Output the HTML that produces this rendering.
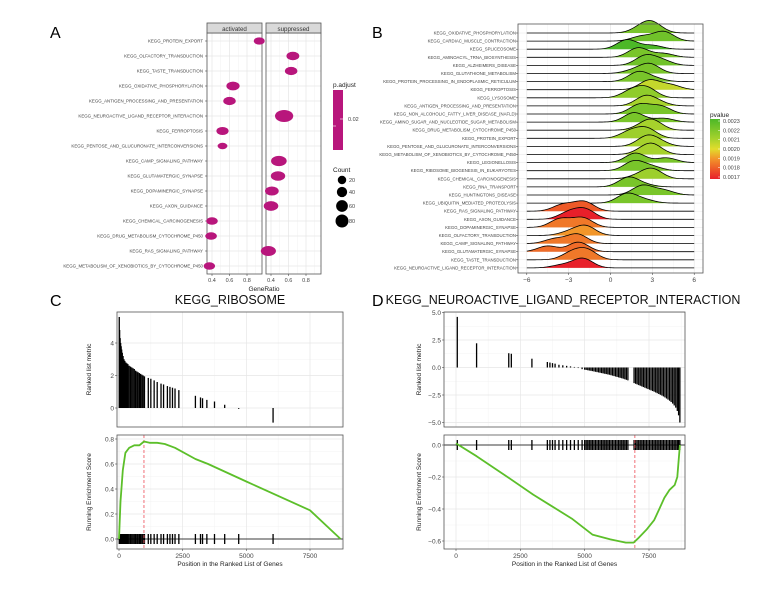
<!DOCTYPE html>
<html><head><meta charset="utf-8">
<style>
html,body{margin:0;padding:0;background:#fff;}
svg{display:block;font-family:"Liberation Sans",Arial,sans-serif;}
</style></head>
<body>
<svg id="fig" width="782" height="590" viewBox="0 0 782 590" xmlns="http://www.w3.org/2000/svg">
<rect width="782" height="590" fill="#fff"/>
<text x="50" y="38" font-size="16">A</text>
<text x="372" y="38" font-size="16">B</text>
<text x="50" y="306" font-size="16">C</text>
<text x="372" y="306" font-size="16">D</text>
<g id="gA"></g>
<g id="gB"></g>
<g id="gC"></g>
<g id="gD"></g>
</svg>
<script>
// ---------- Panel A data ----------
const aTerms = ["KEGG_PROTEIN_EXPORT","KEGG_OLFACTORY_TRANSDUCTION","KEGG_TASTE_TRANSDUCTION","KEGG_OXIDATIVE_PHOSPHORYLATION","KEGG_ANTIGEN_PROCESSING_AND_PRESENTATION","KEGG_NEUROACTIVE_LIGAND_RECEPTOR_INTERACTION","KEGG_FERROPTOSIS","KEGG_PENTOSE_AND_GLUCURONATE_INTERCONVERSIONS","KEGG_CAMP_SIGNALING_PATHWAY","KEGG_GLUTAMATERGIC_SYNAPSE","KEGG_DOPAMINERGIC_SYNAPSE","KEGG_AXON_GUIDANCE","KEGG_CHEMICAL_CARCINOGENESIS","KEGG_DRUG_METABOLISM_CYTOCHROME_P450","KEGG_RAS_SIGNALING_PATHWAY","KEGG_METABOLISM_OF_XENOBIOTICS_BY_CYTOCHROME_P450"];
const aPanel = [0,1,1,0,0,1,0,0,1,1,1,1,0,0,1,0];
const aRatio = [0.94,0.65,0.63,0.64,0.60,0.55,0.52,0.52,0.49,0.48,0.41,0.40,0.40,0.39,0.37,0.37];
const aCount = [22,35,32,38,32,90,30,15,60,48,42,50,25,25,55,24];
const aRatioTicks = [0.4,0.6,0.8];
const aCountLegend = [20,40,60,80];

// ---------- Panel B data ----------
const bTerms = ["KEGG_OXIDATIVE_PHOSPHORYLATION","KEGG_CARDIAC_MUSCLE_CONTRACTION","KEGG_SPLICEOSOME","KEGG_AMINOACYL_TRNA_BIOSYNTHESIS","KEGG_ALZHEIMERS_DISEASE","KEGG_GLUTATHIONE_METABOLISM","KEGG_PROTEIN_PROCESSING_IN_ENDOPLASMIC_RETICULUM","KEGG_FERROPTOSIS","KEGG_LYSOSOME","KEGG_ANTIGEN_PROCESSING_AND_PRESENTATION","KEGG_NON_ALCOHOLIC_FATTY_LIVER_DISEASE_(NAFLD)","KEGG_AMINO_SUGAR_AND_NUCLEOTIDE_SUGAR_METABOLISM","KEGG_DRUG_METABOLISM_CYTOCHROME_P450","KEGG_PROTEIN_EXPORT","KEGG_PENTOSE_AND_GLUCURONATE_INTERCONVERSIONS","KEGG_METABOLISM_OF_XENOBIOTICS_BY_CYTOCHROME_P450","KEGG_LEGIONELLOSIS","KEGG_RIBOSOME_BIOGENESIS_IN_EUKARYOTES","KEGG_CHEMICAL_CARCINOGENESIS","KEGG_RNA_TRANSPORT","KEGG_HUNTINGTONS_DISEASE","KEGG_UBIQUITIN_MEDIATED_PROTEOLYSIS","KEGG_RAS_SIGNALING_PATHWAY","KEGG_AXON_GUIDANCE","KEGG_DOPAMINERGIC_SYNAPSE","KEGG_OLFACTORY_TRANSDUCTION","KEGG_CAMP_SIGNALING_PATHWAY","KEGG_GLUTAMATERGIC_SYNAPSE","KEGG_TASTE_TRANSDUCTION","KEGG_NEUROACTIVE_LIGAND_RECEPTOR_INTERACTION"];
const bPvalue = [0.0022,0.00222,0.0023,0.0022,0.00222,0.0022,0.0022,0.00205,0.00215,0.0021,0.0022,0.0022,0.0021,0.00212,0.0021,0.0021,0.0022,0.0022,0.00212,0.0022,0.0022,0.0022,0.0018,0.0017,0.00185,0.0019,0.00185,0.00183,0.00185,0.0017];
const bPeakMain = [3.0,3.8,1.2,2.0,2.5,2.8,2.0,2.8,2.6,2.5,2.1,1.7,3.0,2.6,2.6,3.0,1.8,1.7,3.0,1.3,2.3,1.2,-1.9,-1.8,-2.0,-1.8,-2.4,-2.3,-1.7,-2.0];
const bPeakSecond = [2.2,2.2,3.0,3.8,3.7,1.6,3.2,4.3,1.5,3.5,3.6,3.8,2.2,1.4,3.5,2.3,4.0,3.0,2.0,2.5,3.8,2.5,-3.4,-3.0,-3.6,-3.0,-4.0,-4.5,-2.8,-3.5];
const bSecondWeight = [0.5,0.5,0.4,0.4,0.5,0.3,0.3,0.5,0.7,0.3,0.8,0.4,0.3,0.7,0.4,0.3,0.5,0.4,0.3,0.2,0.5,0.3,0.7,0.7,0.9,0.35,0.5,0.6,0.7,0.3];
const bXTicks = [-6,-3,0,3,6];
const bLegendTicks = [0.0023,0.0022,0.0021,0.0020,0.0019,0.0018,0.0017];

// ---------- Panel C data ----------
const cHitPos = [10,25,45,65,85,105,130,160,195,230,270,310,350,400,450,500,550,600,650,700,750,800,850,900,950,1000,1150,1250,1380,1500,1650,1750,1900,2000,2100,2200,2350,3000,3200,3280,3450,3750,4150,4700,6050];
const cHitMetric = [5.6,4.8,4.3,4.0,3.8,3.6,3.4,3.2,3.0,2.9,2.8,2.75,2.7,2.6,2.55,2.5,2.45,2.4,2.3,2.25,2.2,2.15,2.1,2.05,2.0,1.95,1.85,1.8,1.7,1.6,1.5,1.45,1.35,1.3,1.25,1.2,1.1,0.75,0.65,0.6,0.5,0.4,0.2,-0.05,-0.9];
const cEsPos = [0,60,150,250,400,600,800,980,1200,1500,1800,2200,3000,3500,5000,7500,8700];
const cEsVal = [0,0.3,0.55,0.69,0.73,0.75,0.75,0.78,0.77,0.77,0.76,0.73,0.64,0.6,0.46,0.23,0];
const cPeakPos = 980;
const cYTopTicks = [0,2,4];
const cYBotTicks = [0,0.2,0.4,0.6,0.8];
const xTicks = [0,2500,5000,7500];

// ---------- Panel D data ----------
const dHitPos = [50,800,2050,2150,2950,3550,3650,3750,3850,4000,4150,4300,4450,4600,4750,4900,5000,5060,5120,5180,5240,5300,5360,5420,5480,5540,5600,5660,5720,5780,5840,5900,5960,6020,6080,6140,6200,6260,6320,6380,6440,6500,6560,6620,6680,6920,6980,7040,7100,7160,7220,7280,7340,7400,7460,7520,7580,7640,7700,7760,7820,7880,7940,8000,8060,8120,8180,8240,8300,8360,8420,8480,8540,8600,8650,8700];
const dHitMetric = [4.6,2.2,1.3,1.25,0.8,0.5,0.45,0.4,0.35,0.25,0.2,0.15,0.1,0.05,-0.05,-0.15,-0.2,-0.22,-0.25,-0.28,-0.3,-0.33,-0.36,-0.39,-0.42,-0.45,-0.48,-0.51,-0.54,-0.57,-0.6,-0.63,-0.66,-0.7,-0.74,-0.78,-0.82,-0.86,-0.9,-0.94,-0.98,-1.02,-1.07,-1.12,-1.17,-1.42,-1.48,-1.54,-1.6,-1.66,-1.72,-1.78,-1.84,-1.9,-1.96,-2.02,-2.08,-2.14,-2.2,-2.27,-2.34,-2.41,-2.48,-2.55,-2.63,-2.72,-2.82,-2.92,-3.02,-3.14,-3.28,-3.45,-3.65,-3.95,-4.35,-5.0];
const dEsPos = [0,800,2000,3000,3700,4500,5300,6000,6600,6900,7100,7400,7700,7900,8100,8300,8500,8600,8700];
const dEsVal = [0.01,-0.07,-0.2,-0.31,-0.38,-0.46,-0.56,-0.59,-0.61,-0.61,-0.58,-0.53,-0.47,-0.4,-0.33,-0.28,-0.25,-0.2,0];
const dPeakPos = 6950;
const dYTopTicks = [5,2.5,0,-2.5,-5];
const dYBotTicks = [0,-0.2,-0.4,-0.6];

const NS = "http://www.w3.org/2000/svg";
function mk(parent, tag, attrs, txt){
  const e = document.createElementNS(NS, tag);
  for (const k in attrs) e.setAttribute(k, attrs[k]);
  if (txt !== undefined) e.textContent = txt;
  parent.appendChild(e);
  return e;
}
function fmt(v,d){ return v.toFixed(d); }

// ================= Panel A =================
(function(){
  const g = document.getElementById('gA');
  const panels = [{l:207,r:262,name:'activated'},{l:266,r:321,name:'suppressed'}];
  const top = 33, bot = 274;
  const rowY = i => 41 + i*15;
  const xA = (v,p) => panels[p].l + 5 + (v-0.4)*87.5;
  panels.forEach((p,pi)=>{
    let e = mk(g,'rect',{x:p.l,y:top,width:p.r-p.l,height:bot-top,fill:'#fff'});
    
    
    [0.5,0.7,0.9].forEach(v=>{ const x=xA(v,pi); if(x<p.r) mk(g,'line',{x1:x,x2:x,y1:top,y2:bot,stroke:'#f2f2f2','stroke-width':0.5}); });
    aRatioTicks.forEach(v=>{ const x=xA(v,pi); mk(g,'line',{x1:x,x2:x,y1:top,y2:bot,stroke:'#e6e6e6','stroke-width':0.7}); });
    aTerms.forEach((t,i)=>{ mk(g,'line',{x1:p.l,x2:p.r,y1:rowY(i),y2:rowY(i),stroke:'#e6e6e6','stroke-width':0.7}); });
    mk(g,'rect',{x:p.l,y:top,width:p.r-p.l,height:bot-top,fill:'none',stroke:'#555','stroke-width':0.8});
    e = mk(g,'rect',{x:p.l,y:23,width:p.r-p.l,height:10,fill:'#d9d9d9',stroke:'#555','stroke-width':0.8});
    
    
    e = mk(g,'text',{x:(p.l+p.r)/2,y:31,'font-size':6.2,'text-anchor':'middle',fill:'#333'},p.name);
    
    
    aRatioTicks.forEach(v=>{
      const x=xA(v,pi);
      mk(g,'line',{x1:x,x2:x,y1:bot,y2:bot+2,stroke:'#333','stroke-width':0.5});
      const t = mk(g,'text',{x:x,y:bot+8,'font-size':5.5,'text-anchor':'middle',fill:'#444'},fmt(v,1));
      
      
    });
  });
  aTerms.forEach((t,i)=>{
    const y=rowY(i);
    mk(g,'line',{x1:205,x2:207,y1:y,y2:y,stroke:'#333','stroke-width':0.5});
    const e = mk(g,'text',{x:203,y:y+1.6,'font-size':4.4,'text-anchor':'end',fill:'#444'},t);
    
    
    const rx = 2 + Math.sqrt(aCount[i])*0.75;
    const d = mk(g,'ellipse',{cx:xA(aRatio[i],aPanel[i]),cy:y,rx:rx,ry:rx*0.66,fill:'#b8167c'});
    
    
  });
  let e = mk(g,'text',{x:264,y:291,'font-size':6.5,'text-anchor':'middle',fill:'#222'},'GeneRatio');
  
  
  e = mk(g,'text',{x:333,y:87,'font-size':6.5,fill:'#222'},'p.adjust');
  
  
  e = mk(g,'rect',{x:333,y:90,width:10,height:60,fill:'#b8167c'});
  
  
  mk(g,'line',{x1:333,x2:336,y1:126,y2:126,stroke:'#fff','stroke-width':0.6});
  mk(g,'line',{x1:340,x2:343,y1:119,y2:119,stroke:'#fff','stroke-width':0.6});
  e = mk(g,'text',{x:348,y:121,'font-size':5.5,fill:'#444'},'0.02');
  
  
  e = mk(g,'text',{x:333,y:172,'font-size':6.5,fill:'#222'},'Count');
  
  
  const ly=[180,192,206,221];
  aCountLegend.forEach((c,i)=>{
    const r = 2 + Math.sqrt(c)*0.5;
    const k = mk(g,'circle',{cx:342,cy:ly[i],r:r,fill:'#000'});
    
    
    const t = mk(g,'text',{x:349,y:ly[i]+2,'font-size':5.5,fill:'#444'},String(c));
    
    
  });
})();

// ================= Panel B =================
(function(){
  const g = document.getElementById('gB');
  const L=518,R=703,T=24,B=273;
  const xB = v => 610.5 + v*13.95;
  const rowY = i => 33 + i*8.1;
  const stops=[[0.0017,[232,32,42]],[0.0018,[238,90,40]],[0.0019,[242,150,42]],[0.0020,[226,220,44]],[0.0021,[166,210,44]],[0.0023,[76,184,40]]];
  function col(p){
    if(p<=stops[0][0]) return 'rgb('+stops[0][1]+')';
    for(let i=1;i<stops.length;i++){ if(p<=stops[i][0]){ const a=stops[i-1],b=stops[i],t=(p-a[0])/(b[0]-a[0]); return 'rgb('+a[1].map((c,j)=>Math.round(c+(b[1][j]-c)*t)).join(',')+')'; } }
    return 'rgb('+stops[stops.length-1][1]+')';
  }
  let e = mk(g,'rect',{x:L,y:T,width:R-L,height:B-T,fill:'#fff'});
  
  
  [-4.5,-1.5,1.5,4.5].forEach(v=>mk(g,'line',{x1:xB(v),x2:xB(v),y1:T,y2:B,stroke:'#f3f3f3','stroke-width':0.5}));
  bXTicks.forEach(v=>mk(g,'line',{x1:xB(v),x2:xB(v),y1:T,y2:B,stroke:'#e6e6e6','stroke-width':0.7}));
  bTerms.forEach((t,i)=>mk(g,'line',{x1:L,x2:R,y1:rowY(i),y2:rowY(i),stroke:'#e6e6e6','stroke-width':0.5}));
  bTerms.forEach((t,i)=>{
    const y0=rowY(i);
    let pts=[];
    for(let v=-6; v<=6.001; v+=0.1){
      const d = Math.exp(-0.5*Math.pow((v-bPeakMain[i])/0.72,2)) + bSecondWeight[i]*Math.exp(-0.5*Math.pow((v-bPeakSecond[i])/0.72,2));
      pts.push([xB(v), y0 - d*9.5]);
    }
    const line = pts.map((p,k)=>(k?'L':'M')+p[0].toFixed(1)+','+p[1].toFixed(2)).join('');
    const area = line + 'L'+xB(6)+','+y0+'L'+xB(-6)+','+y0+'Z';
    const a = mk(g,'path',{d:area,fill:col(bPvalue[i]),stroke:'none'});
    
    
    mk(g,'path',{d:line,fill:'none',stroke:'#000','stroke-width':0.8});
    mk(g,'line',{x1:L-2,x2:L,y1:y0,y2:y0,stroke:'#333','stroke-width':0.5});
    const tx = mk(g,'text',{x:L-2,y:y0+1.5,'font-size':4.3,'text-anchor':'end',fill:'#444'},t);
    
    
  });
  mk(g,'rect',{x:L,y:T,width:R-L,height:B-T,fill:'none',stroke:'#555','stroke-width':0.8});
  bXTicks.forEach(v=>{
    mk(g,'line',{x1:xB(v),x2:xB(v),y1:B,y2:B+2,stroke:'#333','stroke-width':0.5});
    const t = mk(g,'text',{x:xB(v),y:B+9,'font-size':6.5,'text-anchor':'middle',fill:'#444'},(v<0?'\u2212':'')+Math.abs(v));
    
    
  });
  e = mk(g,'text',{x:710,y:117,'font-size':6.5,fill:'#222'},'pvalue');
  
  
  const defs = mk(g,'defs',{});
  const lg = mk(defs,'linearGradient',{id:'pgrad',x1:0,y1:0,x2:0,y2:1});
  [[0,'#4cb828'],[0.33,'#a6d22c'],[0.5,'#e2dc2c'],[0.66,'#f2962a'],[0.83,'#ee5a28'],[1,'#e8202a']].forEach(s=>mk(lg,'stop',{offset:s[0],'stop-color':s[1]}));
  e = mk(g,'rect',{x:710,y:119,width:10,height:60,fill:'url(#pgrad)'});
  
  
  bLegendTicks.forEach((v,i)=>{
    const y = 121 + (0.0023-v)/0.0006*56;
    mk(g,'line',{x1:718,x2:720,y1:y,y2:y,stroke:'#fff','stroke-width':0.5});
    const t = mk(g,'text',{x:723,y:y+2,'font-size':5.5,fill:'#444'},v.toFixed(4));
    
    
  });
})();

// ================= GSEA panels =================
function gsea(g, cfg){
  const {L,R,xs,topT,topB,botT,botB,yTop,yBot,topTicks,botTicks,hitPos,hitMetric,esPos,esVal,peak,title,titleX,ylabX,topDec,botDec,barW} = cfg;
  function grid(T,B,yf,ticks){
    const minor=[];
    for(let i=0;i<ticks.length-1;i++) minor.push((ticks[i]+ticks[i+1])/2);
    minor.forEach(v=>mk(g,'line',{x1:L,x2:R,y1:yf(v),y2:yf(v),stroke:'#f3f3f3','stroke-width':0.5}));
    [1250,3750,6250,8750].forEach(v=>{const x=xs(v); if(x<R) mk(g,'line',{x1:x,x2:x,y1:T,y2:B,stroke:'#f3f3f3','stroke-width':0.5});});
    ticks.forEach(v=>mk(g,'line',{x1:L,x2:R,y1:yf(v),y2:yf(v),stroke:'#e6e6e6','stroke-width':0.7}));
    xTicks.forEach(v=>mk(g,'line',{x1:xs(v),x2:xs(v),y1:T,y2:B,stroke:'#e6e6e6','stroke-width':0.7}));
  }
  let e = mk(g,'text',{x:titleX,y:304,'font-size':12.5,'text-anchor':'middle',fill:'#111'},title);
  
  
  e = mk(g,'rect',{x:L,y:topT,width:R-L,height:topB-topT,fill:'#fff'});
  
  
  grid(topT,topB,yTop,topTicks);
  hitPos.forEach((p,i)=>{
    const b = mk(g,'line',{x1:xs(p),x2:xs(p),y1:yTop(0),y2:yTop(hitMetric[i]),stroke:'#000','stroke-width':barW});
    
    
  });
  mk(g,'rect',{x:L,y:topT,width:R-L,height:topB-topT,fill:'none',stroke:'#555','stroke-width':0.8});
  topTicks.forEach(v=>{
    mk(g,'line',{x1:L-2,x2:L,y1:yTop(v),y2:yTop(v),stroke:'#333','stroke-width':0.5});
    const t = mk(g,'text',{x:L-3,y:yTop(v)+2.3,'font-size':6.5,'text-anchor':'end',fill:'#444'},(v<0?'\u2212':'')+Math.abs(v).toFixed(topDec));
    
    
  });
  e = mk(g,'text',{x:ylabX,y:(topT+topB)/2,'font-size':6.5,'text-anchor':'middle',fill:'#222',transform:'rotate(-90 '+ylabX+' '+(topT+topB)/2+')'},'Ranked list metric');
  
  
  e = mk(g,'rect',{x:L,y:botT,width:R-L,height:botB-botT,fill:'#fff'});
  
  
  grid(botT,botB,yBot,botTicks);
  hitPos.forEach(p=>{
    const h = mk(g,'line',{x1:xs(p),x2:xs(p),y1:yBot(0)-5,y2:yBot(0)+5,stroke:'#000','stroke-width':barW});
    
    
  });
  mk(g,'line',{x1:L,x2:R,y1:yBot(0),y2:yBot(0),stroke:'#000','stroke-width':0.8});
  e = mk(g,'line',{x1:xs(peak),x2:xs(peak),y1:botT,y2:botB,stroke:'#f0606a','stroke-width':0.9,'stroke-dasharray':'3,2'});
  
  
  e = mk(g,'path',{d:esPos.map((p,i)=>(i?'L':'M')+xs(p).toFixed(1)+','+yBot(esVal[i]).toFixed(1)).join(''),fill:'none',stroke:'#5cbf2a','stroke-width':1.8,'stroke-linejoin':'round'});
  
  
  mk(g,'rect',{x:L,y:botT,width:R-L,height:botB-botT,fill:'none',stroke:'#555','stroke-width':0.8});
  botTicks.forEach(v=>{
    mk(g,'line',{x1:L-2,x2:L,y1:yBot(v),y2:yBot(v),stroke:'#333','stroke-width':0.5});
    const t = mk(g,'text',{x:L-3,y:yBot(v)+2.3,'font-size':6.5,'text-anchor':'end',fill:'#444'},(v<0?'\u2212':'')+Math.abs(v).toFixed(botDec));
    
    
  });
  xTicks.forEach(v=>{
    mk(g,'line',{x1:xs(v),x2:xs(v),y1:botB,y2:botB+2,stroke:'#333','stroke-width':0.5});
    const t = mk(g,'text',{x:xs(v),y:botB+9,'font-size':6.5,'text-anchor':'middle',fill:'#444'},String(v));
    
    
  });
  e = mk(g,'text',{x:ylabX,y:(botT+botB)/2,'font-size':6.5,'text-anchor':'middle',fill:'#222',transform:'rotate(-90 '+ylabX+' '+(botT+botB)/2+')'},'Running Enrichment Score');
  
  
  e = mk(g,'text',{x:(L+R)/2,y:566,'font-size':6.5,'text-anchor':'middle',fill:'#222'},'Position in the Ranked List of Genes');
  
  
}
gsea(document.getElementById('gC'),{
  L:117,R:343,xs:p=>119+p*191/7500,topT:312,topB:427,botT:435,botB:549,
  yTop:v=>408-v*16.25,yBot:v=>539-v*125,topTicks:cYTopTicks,botTicks:cYBotTicks,
  hitPos:cHitPos,hitMetric:cHitMetric,esPos:cEsPos,esVal:cEsVal,peak:cPeakPos,
  title:'KEGG_RIBOSOME',titleX:230,ylabX:91,topDec:0,botDec:1,barW:1.3});
gsea(document.getElementById('gD'),{
  L:444,R:685,xs:p=>456+p*193/7500,topT:312,topB:427,botT:435,botB:549,
  yTop:v=>367.5-v*11,yBot:v=>445-v*160,topTicks:dYTopTicks,botTicks:dYBotTicks,
  hitPos:dHitPos,hitMetric:dHitMetric,esPos:dEsPos,esVal:dEsVal,peak:dPeakPos,
  title:'KEGG_NEUROACTIVE_LIGAND_RECEPTOR_INTERACTION',titleX:563,ylabX:421,topDec:1,botDec:1,barW:1.3});
</script>
</body></html>
